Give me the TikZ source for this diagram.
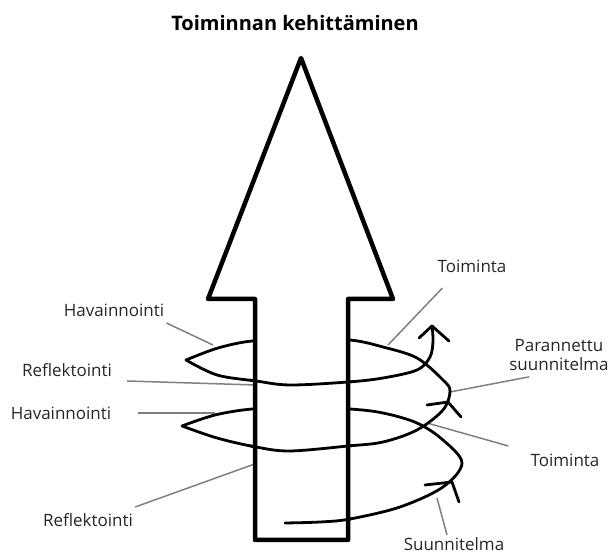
\documentclass[tikz,border=0pt]{standalone}
\usepackage{fontspec}
\setmainfont{Open Sans}

\tikzset{
  spiral/.style={line width=2.8pt, line join=round, line cap=round},
  leader/.style={draw=black!50, line width=1.5pt},
  lbltext/.style={font=\fontsize{17}{19}\selectfont, text=black!85, inner sep=0pt},
}

% the helix round the shaft, drawn twice (behind and in front)
\newcommand\helix{%
  plot[smooth,tension=0.55] coordinates {(285,33) (320,34) (350,37) (400,49) (443,69) (462,93) (443,116) (417,133) (383,143) (350,147) (300,149) (252,147) (215,141) (182,130)}
  -- plot[smooth,tension=0.55] coordinates {(182,130) (217,118) (256,109) (290,105) (348,110) (383,114) (417,126) (443,146) (450,165) (443,176) (417,198) (383,209) (350,216) (300,217) (252,215) (218,208) (186,196)}
  -- plot[smooth,tension=0.55] coordinates {(186,196) (217,181) (256,175) (290,171) (348,174) (383,178) (417,186) (430,199) (433,215) (432,230)}}

\begin{document}
\begin{tikzpicture}[x=1pt,y=1pt]
\useasboundingbox (0,0) rectangle (611,556);

\node[font=\bfseries\fontsize{20}{24}\selectfont, anchor=base] (title) at (295,525) {Toiminnan kehittäminen};

% labels
\node[lbltext, anchor=base] (havA) at (114,239) {Havainnointi};
\node[lbltext, anchor=base] (refA) at (67,179) {Reflektointi};
\node[lbltext, anchor=base] (havB) at (61,136) {Havainnointi};
\node[lbltext, anchor=base] (refB) at (88,29) {Reflektointi};
\node[lbltext, anchor=base] (toiA) at (472,283) {Toiminta};
\node[lbltext, align=center] (suuA) at (559,201) {Parannettu\\suunnitelma};
\node[lbltext, anchor=base] (toiB) at (565,89) {Toiminta};
\node[lbltext, anchor=base] (suuB) at (454,5) {Suunnitelma};

% points on the helix
\coordinate (pHavA) at (213,211);
\coordinate (pRefA) at (256,171);
\coordinate (pHavB) at (215,143);
\coordinate (pRefB) at (288,104);
\coordinate (pToiA) at (388,211);
\coordinate (pSuuA) at (450,164);
\coordinate (pToiB) at (427,133);
\coordinate (pSuuB) at (437,58);

\draw[leader] ([shift={(2,-6)}]havA.base east) -- (pHavA);
\draw[leader] ([shift={(15,-4)}]refA.base east) -- (pRefA);
\draw[leader] ([shift={(27,7)}]havB.base east) -- (pHavB);
\draw[leader] ([shift={(2,20)}]refB.base east) -- (pRefB);
\draw[leader] ([shift={(5,-15)}]toiA.base west) -- (pToiA);
\draw[leader] ([shift={(20,-6)}]suuA.south west) -- (pSuuA);
\draw[leader] ([shift={(-22,21)}]toiB.base west) -- (pToiB);
\draw[leader] ([shift={(-7,3)}]suuB.north) -- (pSuuB);

\draw[spiral] \helix;

% big arrow
\filldraw[fill=white, line width=4.5pt, line join=round]
  (301,498) -- (393,257) -- (348,257) -- (348,16) -- (255,16) -- (255,257) -- (208,257) -- cycle;

% front parts of the helix
\begin{scope}
\clip (250,20) rectangle (352,50) (250,98) rectangle (352,122) (250,160) rectangle (352,190);
\draw[spiral] \helix;
\end{scope}

\draw[spiral] (419,218) -- (432,230) -- (449,215);
\draw[spiral] (427,151) -- (448,154) -- (461,139);
\draw[spiral] (425,71) -- (452,74) -- (459,54);
\end{tikzpicture}
\end{document}
